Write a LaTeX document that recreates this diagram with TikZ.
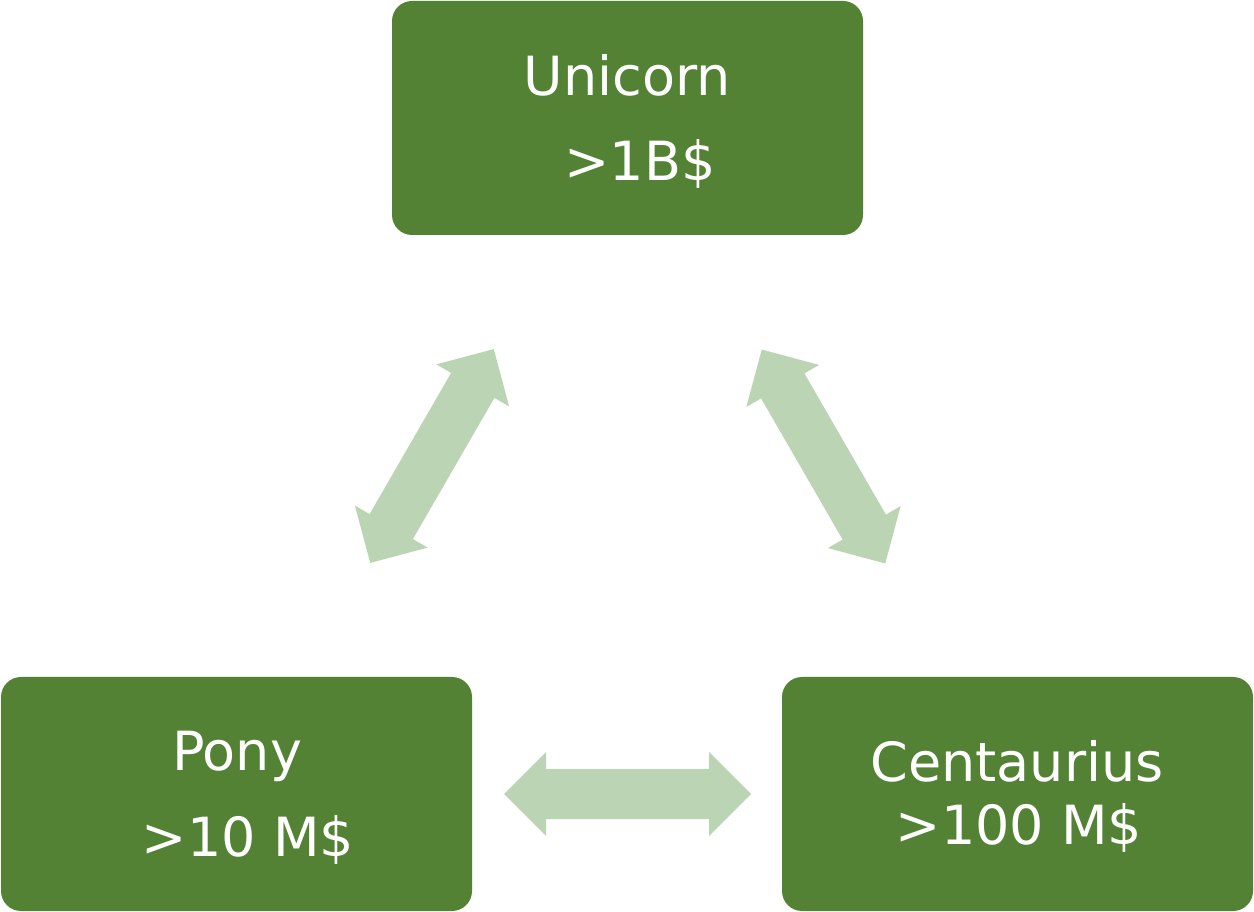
\documentclass[tikz,border=0pt]{standalone}
\usepackage{fontspec}
\setmainfont{DejaVu Sans}
\definecolor{boxgreen}{RGB}{84,130,53}
\definecolor{arrowgreen}{RGB}{187,212,179}
\tikzset{
  box/.style={fill=boxgreen, rounded corners=15pt, minimum width=353.25pt, minimum height=175.5pt, inner sep=0pt, draw=none},
  lbl/.style={text=white, anchor=base, inner sep=0pt, font=\fontsize{40.5}{48}\selectfont},
  pics/dblarrow/.style={code={
    \fill[arrowgreen] (-123.5,0) -- (-81.5,-42) -- (-81.5,-25) -- (81.5,-25) -- (81.5,-42) -- (123.5,0)
      -- (81.5,42) -- (81.5,25) -- (-81.5,25) -- (-81.5,42) -- cycle;
  }}
}
\begin{document}
\begin{tikzpicture}[x=0.75pt,y=-0.75pt]
\useasboundingbox (0,0) rectangle (1254,912);
\node[box] (unicorn) at (627.5,118) {};
\node[box] (pony) at (236.5,794) {};
\node[box] (centaurius) at (1017.5,794) {};
\node[lbl] (u1) at (627,96) {Unicorn};
\node[lbl] (u2) at (640,181) {>1B\$};
\node[lbl] (p1) at (237,770) {Pony};
\node[lbl] (p2) at (248,856) {>10 M\$};
\node[lbl] (c1) at (1017,781) {Centaurius};
\node[lbl] (c2) at (1019,844) {>100 M\$};
\coordinate (a1) at (432,456);
\coordinate (a2) at (823.5,456.5);
\coordinate (a3) at (627.5,794);
\pic[shift={(a1)}, rotate=60] {dblarrow};
\pic[shift={(a2)}, rotate=-60] {dblarrow};
\pic[shift={(a3)}] {dblarrow};
\end{tikzpicture}
\end{document}
